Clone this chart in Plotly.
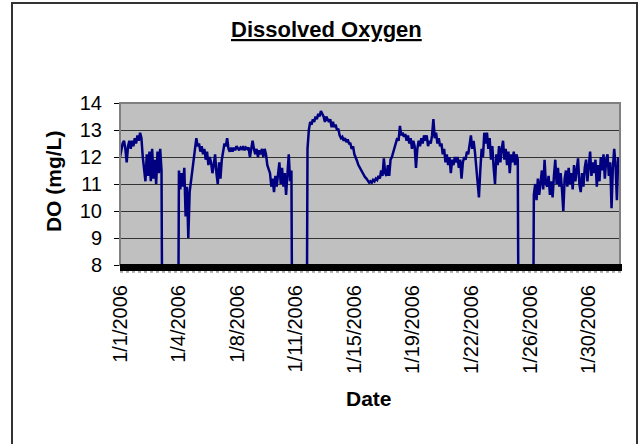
"""Dissolved oxygen logger record, January 2006 (Excel-style line chart)."""

import pandas as pd
import plotly.graph_objects as go

# Readings every 2 hours from 1/1/2006 00:00; 0 = sonde out of the water
start = "2006-01-01 00:00"
do_mgl = [
    # 1/1
    12.0, 12.3, 12.5, 12.6, 12.3, 11.8, 12.4, 12.6, 12.3, 12.6, 12.4, 12.7,
    # 1/2
    12.5, 12.8, 12.6, 12.9, 12.7, 12.0, 11.6, 11.1, 12.1, 11.3, 12.2, 11.1,
    # 1/3
    12.3, 11.2, 11.9, 11.0, 12.2, 11.4, 12.3, 11.5, 0, 0, 0, 0,
    # 1/4
    0, 0, 0, 0, 0, 0, 0, 0, 11.5, 10.8, 11.4, 10.9,
    # 1/5
    11.6, 9.8, 10.9, 9.0, 10.7, 11.1, 11.6, 11.8, 12.3, 12.7, 12.4, 12.5,
    # 1/6
    12.2, 12.4, 12.1, 12.3, 11.9, 12.2, 11.7, 12.0, 11.8, 11.4, 11.7, 12.1,
    # 1/7
    11.4, 11.0, 11.8, 11.2, 11.9, 12.3, 12.5, 12.4, 12.7, 12.3, 12.2, 12.35,
    # 1/8
    12.2, 12.35, 12.25, 12.4, 12.3, 12.25, 12.35, 12.3, 12.4, 12.25, 12.35, 12.3,
    # 1/9
    12.35, 12.0, 12.3, 12.6, 12.3, 12.1, 12.3, 12.0, 12.25, 12.1, 12.3, 12.0,
    # 1/10
    12.3, 12.1, 11.7, 11.5, 11.4, 10.9, 11.2, 10.7, 11.3, 10.9, 11.5, 11.8,
    # 1/11
    11.0, 11.6, 10.9, 11.4, 10.6, 11.2, 12.1, 11.1, 11.5, 0, 0, 0,
    # 1/12
    0, 0, 0, 0, 0, 0, 0, 0, 12.3, 13.0, 13.3, 13.2,
    # 1/13
    13.4, 13.3, 13.5, 13.4, 13.6, 13.5, 13.7, 13.6, 13.5, 13.3, 13.5, 13.4,
    # 1/14
    13.3, 13.4, 13.1, 13.3, 13.1, 13.2, 13.0, 13.05, 12.8, 12.7, 12.75, 12.6,
    # 1/15
    12.7, 12.55, 12.65, 12.5, 12.5, 12.3, 12.4, 12.1, 12.0, 11.85, 11.7, 11.6,
    # 1/16
    11.5, 11.4, 11.35, 11.25, 11.2, 11.1, 11.05, 11.1, 11.05, 11.15, 11.1, 11.2,
    # 1/17
    11.15, 11.3, 11.2, 11.5, 11.3, 11.95, 11.4, 11.3, 11.7, 11.3, 11.9, 12.0,
    # 1/18
    12.2, 12.4, 12.5, 12.7, 12.6, 13.15, 12.8, 12.9, 12.75, 12.85, 12.6, 12.8,
    # 1/19
    12.5, 12.7, 12.3, 12.6, 12.4, 11.6, 12.3, 12.6, 12.4, 12.7, 12.5, 12.8,
    # 1/20
    12.6, 12.8, 12.4, 12.6, 12.5, 12.8, 13.4, 12.7, 12.9, 12.5, 12.7, 12.4,
    # 1/21
    12.5, 12.1, 12.3, 11.8, 12.1, 11.7, 12.0, 11.4, 11.9, 11.7, 12.0, 11.8,
    # 1/22
    12.0, 11.6, 11.9, 11.2, 11.8, 12.0, 11.9, 12.2, 12.1, 12.5, 12.8, 12.3,
    # 1/23
    12.6, 12.2, 11.6, 11.0, 10.5, 11.5, 12.3, 12.0, 12.9, 12.5, 12.9, 12.3,
    # 1/24
    12.7, 11.9, 12.4, 11.6, 11.0, 12.1, 11.7, 12.4, 11.8, 12.3, 12.6, 11.9,
    # 1/25
    12.3, 11.7, 12.2, 11.4, 12.1, 11.8, 12.2, 11.7, 12.1, 11.9, 0, 0,
    # 1/26
    0, 0, 0, 0, 0, 0, 0, 0, 0, 10.6, 11.0, 10.4,
    # 1/27
    11.2, 10.6, 11.1, 11.5, 10.8, 11.9, 11.0, 10.9, 11.3, 10.6, 11.1, 10.5,
    # 1/28
    11.3, 11.9, 11.0, 11.6, 10.9, 11.4, 10.8, 10.0, 11.2, 11.5, 10.9, 11.6,
    # 1/29
    11.0, 11.4, 10.8, 11.7, 11.1, 11.5, 11.95, 11.0, 10.7, 11.4, 10.9, 11.6,
    # 1/30
    11.9, 11.1, 11.6, 12.2, 11.3, 11.8, 11.4, 11.9, 10.9, 11.7, 11.1, 12.0,
    # 1/31
    11.5, 12.1, 11.2, 11.9, 12.1, 11.3, 11.8, 10.1, 11.6, 12.3, 11.7, 10.4,
    # 2/1
    12.0, 11.6, 12.2,
]

# Excel category axis: one label every 350 fifteen-minute records
record_minutes = 15
records_per_label = 350
tick_labels = [
    "1/1/2006", "1/4/2006", "1/8/2006", "1/11/2006", "1/15/2006",
    "1/19/2006", "1/22/2006", "1/26/2006", "1/30/2006",
]

times = pd.date_range(start, periods=len(do_mgl), freq="2h")
t0 = pd.Timestamp(start)
tick_vals = [t0 + i * pd.Timedelta(minutes=record_minutes * records_per_label)
             for i in range(len(tick_labels))]

FONT = "Liberation Sans, Arial, sans-serif"

fig = go.Figure()
fig.add_trace(
    go.Scatter(
        x=times,
        y=do_mgl,
        mode="lines",
        line=dict(color="#000080", width=2.5),
        hoverinfo="skip",
    )
)

fig.update_layout(
    width=639,
    height=444,
    margin=dict(l=120, r=19, t=103, b=179),
    paper_bgcolor="white",
    plot_bgcolor="#C0C0C0",
    showlegend=False,
    font=dict(family=FONT, color="black"),
    xaxis=dict(
        type="date",
        range=[t0, t0 + pd.Timedelta(days=31.11)],
        tickmode="array",
        tickvals=tick_vals,
        ticktext=tick_labels,
        tickangle=-90,
        tickfont=dict(size=20),
        ticks="outside",
        ticklen=11,
        tickcolor="rgba(0,0,0,0)",
        showgrid=False,
        zeroline=False,
        showline=False,
    ),
    yaxis=dict(
        range=[8, 14],
        dtick=1,
        tickfont=dict(size=20),
        ticks="outside",
        ticklen=5,
        tickcolor="black",
        ticklabelstandoff=8,
        showgrid=True,
        gridcolor="#333333",
        gridwidth=1,
        showline=True,
        linecolor="#333333",
        linewidth=1,
        zeroline=False,
    ),
    shapes=[
        # outer chart frame
        dict(type="rect", xref="paper", yref="paper",
             x0=-0.216, x1=1.034, y0=-1.3, y1=1.617,
             line=dict(color="#333333", width=2), layer="above"),
        # plot area border
        dict(type="rect", xref="paper", yref="paper",
             x0=0, x1=1, y0=0, y1=1,
             line=dict(color="#808080", width=2), layer="above"),
        # heavy category axis
        dict(type="rect", xref="paper", yref="paper",
             x0=0, x1=1.004, y0=-0.037, y1=0.006,
             fillcolor="black", line=dict(width=0), layer="above"),
        dict(type="line", xref="paper", yref="paper",
             x0=0, x1=1.004, y0=-0.043, y1=-0.043,
             line=dict(color="#666666", width=1, dash="dot"), layer="above"),
    ],
    annotations=[
        dict(text="<u><b>Dissolved Oxygen</b></u>", xref="paper", yref="paper",
             x=0.412, y=1.451, xanchor="center", yanchor="middle",
             showarrow=False, font=dict(size=22)),
        dict(text="<b>DO (mg/L)</b>", xref="paper", yref="paper",
             x=-0.133, y=0.515, xanchor="center", yanchor="middle",
             textangle=-90, showarrow=False, font=dict(size=21)),
        dict(text="<b>Date</b>", xref="paper", yref="paper",
             x=0.497, y=-0.827, xanchor="center", yanchor="middle",
             showarrow=False, font=dict(size=21)),
    ],
)

# the page's default 8px body margin would shift the whole chart
fig.write_html(
    "out.html",
    config={"displayModeBar": False},
    post_script="document.body.style.margin='0px';",
)
